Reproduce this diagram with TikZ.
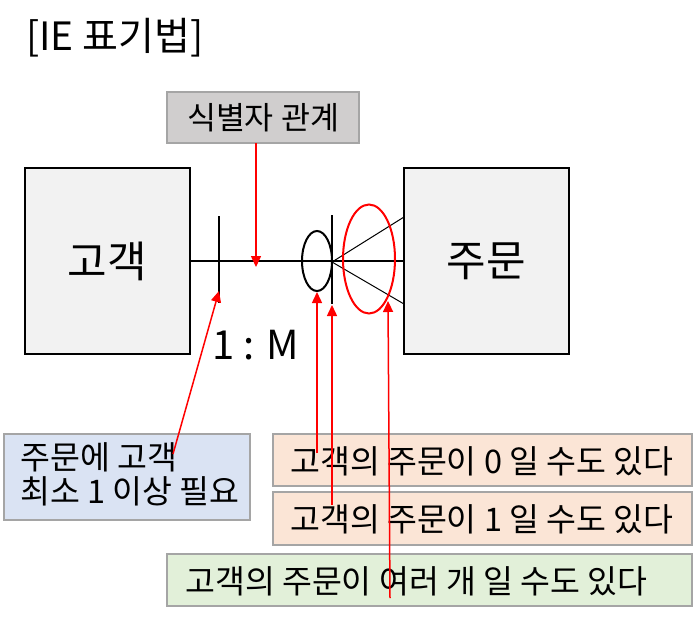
\documentclass[tikz,border=0pt]{standalone}
\usepackage{fontspec}
\setmainfont{Noto Sans CJK KR}
\usetikzlibrary{arrows.meta,shapes.geometric}
\definecolor{boxgray}{HTML}{D0CECE}
\definecolor{edgegray}{HTML}{A5A5A5}
\definecolor{entfill}{HTML}{F2F2F2}
\definecolor{bluefill}{HTML}{DAE3F3}
\definecolor{orangefill}{HTML}{FBE5D6}
\definecolor{greenfill}{HTML}{E2F0D9}
\tikzset{
  entity/.style={draw=black, line width=2pt, fill=entfill, minimum width=165pt, minimum height=186pt, inner sep=0pt, font=\fontsize{43}{50}\selectfont},
  notebox/.style={draw=edgegray, line width=2pt, inner sep=0pt},
  notetext/.style={anchor=west, inner sep=0pt, font=\fontsize{32.5}{38}\selectfont},
  redarrow/.style={draw=red, line width=1.5pt, -{Triangle[length=11pt,width=10pt]}},
  bar/.style={line width=2.5pt},
}
\begin{document}
\begin{tikzpicture}[x=1pt,y=-1pt]
\useasboundingbox (0,0) rectangle (693,616);
% title
\node[anchor=west, inner sep=0pt, font=\fontsize{39}{46}\selectfont] (title) at (26,38) {[IE 표기법]};
% entities
\node[entity] (cust) at (107.5,261) {고객};
\node[entity] (ord) at (486.5,261) {주문};
% relationship line
\draw[line width=1.5pt] (cust.east) -- (ord.west);
% bar near customer
\coordinate (b1t) at (219,216);
\coordinate (b1b) at (219,303);
\draw[bar] (b1t) -- (b1b);
% ellipse (zero)
\node[draw, ellipse, line width=2pt, minimum width=30pt, minimum height=60pt, inner sep=0pt] (zero) at (317,261) {};
% bar at order side
\coordinate (b2t) at (332,215);
\coordinate (b2b) at (332,304);
\draw[bar] (b2t) -- (b2b);
% crow's foot
\coordinate (cf) at (332,262);
\coordinate (cfu) at (404,217);
\coordinate (cfd) at (404,304);
\draw[line width=1pt] (cfu) -- (cf) -- (cfd);
% red ellipse
\node[draw=red, ellipse, line width=2pt, minimum width=52pt, minimum height=109pt, inner sep=0pt] (many) at (369,259) {};
% cardinality
\node[inner sep=0pt, font=\fontsize{40}{46}\selectfont] (card) at (256,345) {1 : M};
% identifying relationship box
\node[notebox, fill=boxgray, minimum width=192pt, minimum height=51pt, font=\fontsize{31.5}{36}\selectfont] (ident) at (263,117.5) {식별자 관계};
% note boxes
\node[notebox, fill=bluefill, minimum width=246pt, minimum height=86pt] (nblue) at (127,477) {};
\node[anchor=north west, inner sep=0pt, align=left, font=\fontsize{32.5}{34}\selectfont] (tblue) at (20,442) {주문에 고객\\최소 1 이상 필요};
\node[notebox, fill=orangefill, minimum width=419pt, minimum height=52pt] (n0) at (482.5,460) {};
\node[notetext] (t0) at (290,461) {고객의 주문이 0 일 수도 있다};
\node[notebox, fill=orangefill, minimum width=419pt, minimum height=53pt] (n1) at (482.5,518.5) {};
\node[notetext] (t1) at (290,519) {고객의 주문이 1 일 수도 있다};
\node[notebox, fill=greenfill, minimum width=525pt, minimum height=52pt] (nm) at (429.5,580) {};
\node[notetext] (tm) at (185,581) {고객의 주문이 여러 개 일 수도 있다};
% red arrows
\coordinate (a0) at (256,143);
\coordinate (a0e) at (256,267);
\draw[redarrow] (a0) -- (a0e);
\coordinate (a1) at (173,454);
\coordinate (a1e) at (219,291);
\draw[redarrow] (a1) -- (a1e);
\coordinate (a2) at (317,453);
\draw[redarrow] (a2) -- (zero.south);
\coordinate (a3) at (332,505);
\coordinate (a3e) at (332,305);
\draw[redarrow] (a3) -- (a3e);
\coordinate (a4) at (390,598);
\coordinate (a4e) at (388,301);
\draw[redarrow] (a4) -- (a4e);
\end{tikzpicture}
\end{document}
